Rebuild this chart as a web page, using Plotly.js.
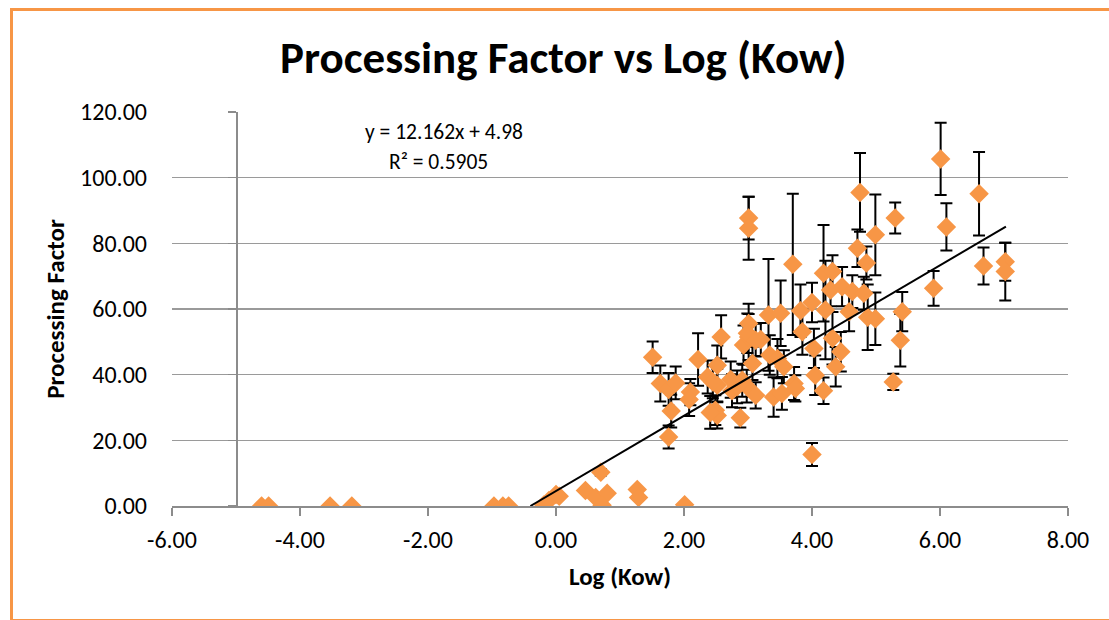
<!DOCTYPE html>
<html>
<head>
<meta charset="utf-8">
<script src="https://cdn.plot.ly/plotly-3.0.1.min.js"></script>
<style>
  html, body { margin: 0; padding: 0; background: #fff; overflow: hidden; }
  #chart { position: absolute; left: 0; top: 0; width: 1109px; height: 620px; }
  #frame { position: absolute; left: 10px; top: 8px; width: 1200px; height: 614px;
           border: 3px solid #F79646; pointer-events: none; box-sizing: border-box; }
</style>
</head>
<body>
<div id="chart"></div>
<div id="frame"></div>
<script>
// ---- data ----
const logKow = [
  -4.60, -4.49, -3.53, -3.19, -0.97, -0.83, -0.74, -0.19, -0.11, 0.00, 0.05,
  0.46, 0.62, 0.80, 0.72, 0.70, 1.27, 1.29, 2.01,
  1.51, 1.63, 1.76, 1.87, 1.80, 1.76, 2.10, 2.08, 2.22, 2.58, 2.37, 2.52, 2.52,
  2.49, 2.52, 2.73, 2.75, 2.88, 3.01, 2.93, 3.01, 3.07, 2.98, 3.12, 3.20, 3.32,
  3.51, 3.34, 3.46, 3.56, 3.40, 3.53, 3.72, 3.74, 3.85, 3.82, 4.00, 4.21, 4.03,
  4.05, 4.18, 4.32, 4.37, 4.45, 4.58, 4.00, 2.45, 2.83, 2.91, 2.99, 3.12, 2.41,
  3.01, 3.01, 3.70, 4.75, 4.99, 5.30, 4.71, 4.85, 4.18, 4.32, 4.29, 4.47, 4.63,
  4.81, 5.90, 6.01, 6.10, 6.61, 6.68, 7.02, 7.02, 5.41, 5.27, 5.38, 4.87, 4.99
];
const processingFactor = [
  0.0, 0.0, 0.0, 0.0, 0.0, 0.0, 0.0, 0.3, 1.7, 3.5, 3.0,
  4.7, 2.6, 3.9, 0.2, 10.3, 5.0, 2.6, 0.4,
  45.3, 37.3, 35.5, 37.5, 28.9, 21.0, 34.7, 32.4, 44.6, 51.5, 39.3, 42.9, 36.8,
  29.2, 27.6, 38.5, 35.1, 26.9, 55.6, 49.0, 51.5, 43.4, 36.5, 33.7, 50.7, 58.2,
  58.7, 46.0, 44.9, 42.4, 33.2, 34.3, 37.3, 35.8, 53.1, 59.5, 62.0, 59.7, 48.0,
  39.8, 35.1, 51.1, 42.4, 47.0, 59.2, 15.7, 37.8, 36.3, 38.3, 52.6, 50.5, 28.5,
  87.7, 84.6, 73.6, 95.5, 82.6, 87.7, 78.5, 74.0, 70.9, 71.4, 65.8, 66.8, 65.3,
  64.8, 66.3, 105.7, 85.0, 95.1, 73.1, 74.4, 71.4, 59.2, 37.8, 50.5, 57.5, 57.0
];
const errorSize = [
  0, 0, 0, 0, 0, 0, 0, 0, 0, 0, 0,
  0, 0, 0, 0, 1.0, 0, 0, 0,
  4.8, 5.5, 5.0, 5.0, 5.0, 3.5, 4.0, 5.0, 8.0, 6.6, 5.0, 6.0, 5.0,
  4.5, 4.0, 5.5, 5.0, 3.0, 6.0, 6.0, 7.0, 5.0, 5.0, 4.0, 5.0, 17.0,
  10.0, 6.0, 6.0, 5.0, 6.0, 5.0, 5.0, 4.0, 7.0, 8.0, 6.0, 15.0, 6.0,
  6.0, 4.0, 8.0, 6.0, 6.0, 6.0, 3.5, 5.0, 5.0, 5.0, 6.0, 5.0, 5.0,
  6.5, 9.6, 21.5, 12.0, 12.3, 4.7, 5.7, 5.0, 14.7, 5.0, 5.0, 6.0, 5.0,
  5.0, 5.3, 11.0, 7.2, 12.7, 5.6, 5.8, 8.8, 6.0, 2.5, 8.0, 10.0, 8.0
];
// trend line as drawn in the picture (clipped at the x axis)
const trendX = [-0.40, 7.03];
const trendY = [0, 85.1];
const trendEquation = 'y = 12.162x + 4.98';
const trendR2 = 'R² = 0.5905';

const xTickVals = [-6, -4, -2, 0, 2, 4, 6, 8];
const xTickText = ['-6.00', '-4.00', '-2.00', '0.00', '2.00', '4.00', '6.00', '8.00'];
const yTickVals = [0, 20, 40, 60, 80, 100, 120];
const yTickText = ['0.00', '20.00', '40.00', '60.00', '80.00', '100.00', '120.00'];

const FONT = 'Carlito, Lato, "Open Sans", sans-serif';
const ORANGE = '#F79646';
const AXISGRAY = '#8c8c8c';

const traces = [
  {
    type: 'scatter', mode: 'markers',
    x: logKow, y: processingFactor,
    marker: { symbol: 'diamond', size: 15, color: ORANGE, line: { width: 0 } },
    error_y: { type: 'data', array: errorSize, visible: true, color: '#000', thickness: 2, width: 6 },
    hoverinfo: 'x+y', showlegend: false
  },
  {
    type: 'scatter', mode: 'lines',
    x: trendX, y: trendY, yaxis: 'y2',
    line: { color: '#000', width: 2 },
    hoverinfo: 'skip', showlegend: false
  }
];

const layout = {
  width: 1109, height: 620,
  paper_bgcolor: '#fff', plot_bgcolor: '#fff',
  margin: { l: 172, r: 41, t: 112, b: 114, pad: 0 },
  font: { family: FONT, color: '#000' },
  showlegend: false,
  title: {
    text: '<b>Processing Factor vs Log (Kow)</b>',
    font: { family: FONT, size: 45, color: '#000' },
    xref: 'container', x: 0.508, xanchor: 'center',
    yref: 'container', y: 0.908, yanchor: 'middle'
  },
  xaxis: {
    range: [-6, 8], tickmode: 'array', tickvals: xTickVals, ticktext: xTickText,
    showline: true, linecolor: AXISGRAY, linewidth: 1.5,
    ticks: 'outside', ticklen: 8, tickwidth: 1.5, tickcolor: AXISGRAY,
    ticklabelstandoff: 4,
    showgrid: false, zeroline: false, automargin: false,
    tickfont: { family: FONT, size: 24, color: '#000' },
    title: { text: '<b>Log (Kow)</b>', font: { family: FONT, size: 25, color: '#000' }, standoff: 14 }
  },
  yaxis: {
    range: [0, 120], tickmode: 'array', tickvals: yTickVals, ticktext: yTickText,
    showline: false, ticks: '', ticklabelstandoff: 24,
    showgrid: true, gridcolor: '#9a9a9a', gridwidth: 1.5,
    zeroline: false, automargin: false,
    tickfont: { family: FONT, size: 24, color: '#000' },
    title: { text: '<b>Processing Factor</b>', font: { family: FONT, size: 25, color: '#000' }, standoff: 8 }
  },
  yaxis2: {
    overlaying: 'y', anchor: 'free', position: 1 / 14, side: 'left',
    range: [0, 120], dtick: 20, tick0: 0,
    showline: true, linecolor: AXISGRAY, linewidth: 1.5,
    ticks: 'outside', ticklen: 8, tickwidth: 1.5, tickcolor: AXISGRAY,
    showticklabels: false, showgrid: false, zeroline: false, automargin: false
  },
  annotations: [
    { text: trendEquation, xref: 'paper', yref: 'paper', x: 0.304, y: 0.948,
      xanchor: 'center', yanchor: 'middle', showarrow: false,
      font: { family: FONT, size: 21.5, color: '#000' } },
    { text: trendR2, xref: 'paper', yref: 'paper', x: 0.297, y: 0.872,
      xanchor: 'center', yanchor: 'middle', showarrow: false,
      font: { family: FONT, size: 21.5, color: '#000' } }
  ]
};

Plotly.newPlot('chart', traces, layout, { staticPlot: true, displayModeBar: false });
</script>
</body>
</html>
